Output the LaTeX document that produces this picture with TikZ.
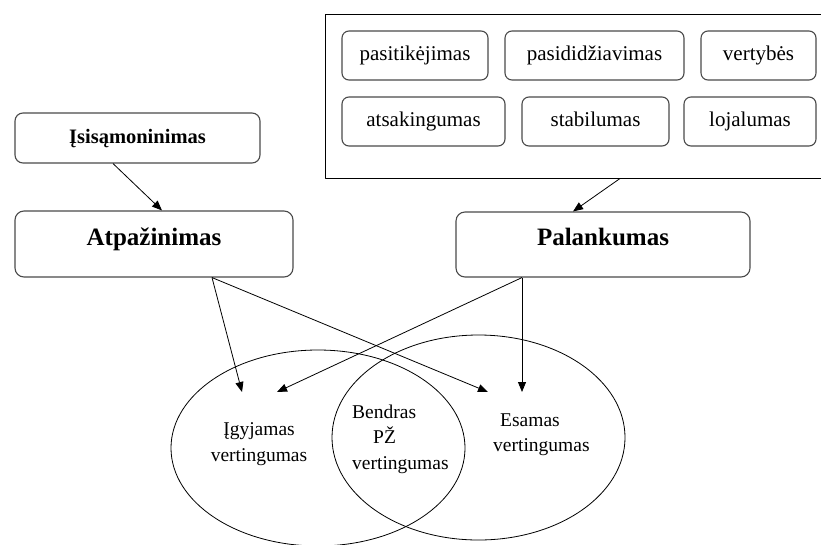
\documentclass[tikz,border=0pt]{standalone}
\usepackage{fontspec}
\setmainfont{Liberation Serif}
\usetikzlibrary{arrows.meta}
\definecolor{boxline}{HTML}{4A4A4A}
\definecolor{ink}{HTML}{000000}

\begin{document}
\begin{tikzpicture}[x=1pt,y=-1pt,line join=round,
  bigbox/.style={draw=boxline,line width=1.1pt,rounded corners=9pt,fill=white,inner sep=0pt,
    font=\bfseries\fontsize{25}{30}\selectfont,text height=18pt,text depth=16pt},
  topbox/.style={draw=boxline,line width=1.1pt,rounded corners=8pt,fill=white,inner sep=0pt,
    font=\bfseries\fontsize{20.5}{24}\selectfont,text height=15pt,text depth=5pt},
  itembox/.style={draw=boxline,line width=1.1pt,rounded corners=7pt,fill=white,inner sep=0pt,
    minimum height=49pt,font=\fontsize{21}{25}\selectfont,text height=14pt,text depth=5pt},
  lbl/.style={inner sep=0pt,font=\fontsize{19.5}{25.5}\selectfont},
  conn/.style={ink,line width=0.8pt},
  arr/.style={conn,-{Triangle[length=10pt,width=8pt]}}]
  \useasboundingbox (0,0) rectangle (821,544);

  % ===== value group (top right) =====
  \draw[ink,line width=1pt] (325,14) rectangle (824,178);
  \node[itembox,minimum width=146pt] (trust) at (415,55.5) {pasitikėjimas};
  \node[itembox,minimum width=179pt] (pride) at (594.5,55.5) {pasididžiavimas};
  \node[itembox,minimum width=115pt] (values) at (758.5,55.5) {vertybės};
  \node[itembox,minimum width=163pt] (resp) at (423.5,121.5) {atsakingumas};
  \node[itembox,minimum width=147pt] (stab) at (595.5,121.5) {stabilumas};
  \node[itembox,minimum width=132pt] (loyal) at (750,121.5) {lojalumas};
  \coordinate (groupfoot) at (620,178.5);

  % ===== main boxes =====
  \node[topbox,minimum width=245pt,minimum height=50pt] (aware) at (137.5,138) {Įsisąmoninimas};
  \node[bigbox,minimum width=278pt,minimum height=66pt] (recog) at (154,244) {Atpažinimas};
  \node[bigbox,minimum width=294pt,minimum height=65pt] (favour) at (603,244.5) {Palankumas};

  % ===== ellipses =====
  \draw[ink,line width=0.8pt] (318,448) ellipse [x radius=147,y radius=98];
  \draw[ink,line width=0.8pt] (478.5,437.5) ellipse [x radius=146.5,y radius=102.5];
  \node[lbl,align=center] (gained) at (259,444) {Įgyjamas\\vertingumas};
  \node[lbl,align=left,anchor=west] (common) at (352,439) {Bendras\\\hspace*{21pt}PŽ\\vertingumas};
  \node[lbl,align=left,anchor=west] (current) at (493,434.5) {\hspace*{7pt}Esamas\\vertingumas};
  \coordinate (gainedtipA) at (242,392);
  \coordinate (gainedtipB) at (277,392);
  \coordinate (currenttipA) at (488,392);
  \coordinate (currenttipB) at (522,392);

  % ===== connectors =====
  \draw[arr] ([xshift=-24.5pt]aware.south) -- ([xshift=8pt]recog.north);
  \draw[arr] (groupfoot) -- ([xshift=-30pt]favour.north);
  \coordinate (recogfoot) at ([xshift=58pt]recog.south);
  \coordinate (favourfoot) at ([xshift=-81pt]favour.south);
  \draw[arr] (recogfoot) -- (gainedtipA);
  \draw[arr] (recogfoot) -- (currenttipA);
  \draw[arr] (favourfoot) -- (gainedtipB);
  \draw[arr] (favourfoot) -- (currenttipB);
\end{tikzpicture}
\end{document}
